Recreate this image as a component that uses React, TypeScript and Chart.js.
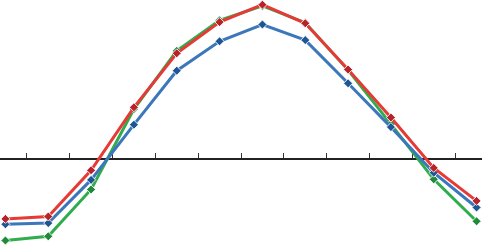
import React, { useEffect, useRef } from "react";
import { Chart, registerables } from "chart.js";

Chart.register(...registerables);

const months = ["Jan", "Feb", "Mar", "Apr", "May", "Jun", "Jul", "Aug", "Sep", "Oct", "Nov", "Dec"];
const redSeries = [-9.9, -9.5, -1.8, 8.7, 17.7, 22.9, 25.8, 22.7, 15.0, 7.0, -1.4, -6.9];
const blueSeries = [-10.8, -10.6, -3.4, 5.8, 14.8, 19.7, 22.5, 19.9, 12.7, 5.4, -2.2, -8.0];
const greenSeries = [-13.5, -12.8, -5.0, 8.4, 18.1, 23.2, 25.6, 22.8, 14.9, 5.9, -3.3, -10.3];

const Y_MIN = -14.917;
const Y_MAX = 27.083;

export default function App() {
  const ref = useRef<HTMLCanvasElement | null>(null);
  useEffect(() => {
    if (!ref.current) return;
    const mk = (label: string, data: number[], line: string, marker: string) => ({
      label,
      data,
      borderColor: line,
      backgroundColor: marker,
      borderWidth: 3,
      pointStyle: "rectRot" as const,
      pointRadius: 4.5,
      pointBackgroundColor: marker,
      pointBorderColor: "rgba(255,255,255,0.85)",
      pointBorderWidth: 1,
      tension: 0,
      fill: false,
      clip: false as const,
    });
    const chart = new Chart(ref.current, {
      type: "line",
      data: {
        labels: months,
        datasets: [
          mk("Red", redSeries, "#e63a36", "#b8232b"),
          mk("Blue", blueSeries, "#3b77ba", "#1d5595"),
          mk("Green", greenSeries, "#2fac4c", "#1e8a3a"),
        ],
      },
      options: {
        responsive: false,
        animation: false,
        layout: { padding: 0, autoPadding: false },
        plugins: { legend: { display: false }, tooltip: { enabled: false } },
        scales: {
          x: {
            type: "category",
            position: { y: 0 } as any,
            offset: true,
            afterFit: (scale: any) => {
              scale.height = 0;
            },
            grid: {
              offset: true,
              drawOnChartArea: false,
              drawTicks: true,
              tickLength: -7,
              tickColor: "#333",
              lineWidth: 1,
            },
            border: { display: true, color: "#222", width: 2 },
            ticks: { display: false },
          },
          y: {
            display: false,
            min: Y_MIN,
            max: Y_MAX,
          },
        },
      },
    });
    return () => chart.destroy();
  }, []);
  return (
    <div style={{ position: "absolute", left: -16, top: -3, width: 514, height: 252, background: "#fff" }}>
      <canvas ref={ref} width={514} height={252} style={{ display: "block" }} />
    </div>
  );
}
